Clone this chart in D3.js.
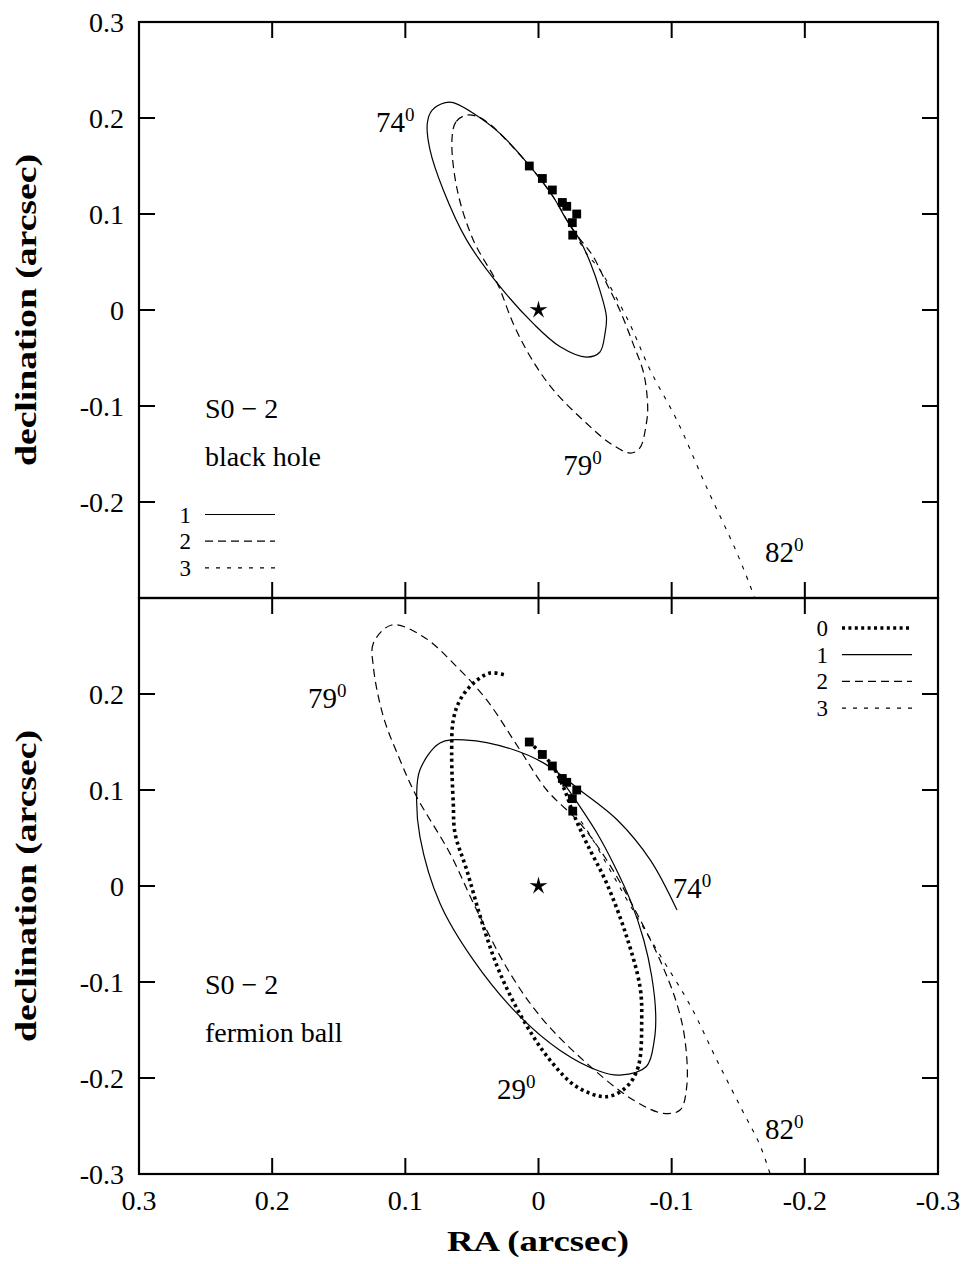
<!DOCTYPE html>
<html>
<head>
<meta charset="utf-8">
<script src="https://cdn.jsdelivr.net/npm/d3@7"></script>
<style>
  body { margin: 0; background: #fff; }
  svg { display: block; }
  text { font-family: "Liberation Serif", "DejaVu Serif", serif; fill: #000; }
</style>
</head>
<body>
<script>
// ---- axis ticks ----
const tickValues = [0.3, 0.2, 0.1, 0, -0.1, -0.2, -0.3];
const tickLabels = ["0.3", "0.2", "0.1", "0", "-0.1", "-0.2", "-0.3"];

// ---- S0-2 astrometric positions (arcsec) ----
const obsRA  = [0.0069, -0.0029, -0.0104, -0.0179, -0.0212, -0.0287, -0.0254, -0.0257];
const obsDec = [0.150, 0.137, 0.125, 0.112, 0.108, 0.100, 0.091, 0.078];

// ---- black hole fits ----
// 1: i = 74 deg (closed orbit)
const bh1RA  = [0.064, 0.070, 0.080, 0.0835, 0.0815, 0.0715, 0.054, 0.031, 0.004, -0.016, -0.036, -0.046, -0.050, -0.051, -0.046, -0.039, -0.031, -0.021, -0.011, 0.006, 0.029, 0.049];
const bh1Dec = [0.216, 0.216, 0.208, 0.1945, 0.167, 0.125, 0.073, 0.028, -0.014, -0.038, -0.049, -0.044, -0.024, -0.007, 0.021, 0.049, 0.073, 0.094, 0.118, 0.149, 0.184, 0.205];
// 2: i = 79 deg (closed orbit)
const bh2RA  = [0.054, 0.062, 0.065, 0.061, 0.049, 0.031, 0.019, 0.006, -0.011, -0.036, -0.054, -0.069, -0.076, -0.081, -0.082, -0.079, -0.071, -0.061, -0.051, -0.041, -0.034, -0.026, -0.011, 0.006, 0.029, 0.036, 0.045];
const bh2Dec = [0.203, 0.196, 0.177, 0.125, 0.073, 0.028, -0.014, -0.049, -0.083, -0.118, -0.139, -0.149, -0.144, -0.118, -0.101, -0.066, -0.035, 0.000, 0.028, 0.056, 0.069, 0.083, 0.118, 0.149, 0.184, 0.193, 0.201];
// 3: i = 82 deg (open arc)
const bh3RA  = [-0.027, -0.036, -0.046, -0.067, -0.084, -0.104, -0.126, -0.149, -0.161, -0.1626];
const bh3Dec = [0.081, 0.059, 0.042, -0.010, -0.063, -0.115, -0.184, -0.253, -0.295, -0.302];

// ---- fermion ball fits ----
// 0: i = 29 deg
const fb0RA  = [0.0071, -0.0011, -0.0101, -0.0186, -0.0261, -0.0362, -0.0512, -0.0662, -0.0762, -0.0775, -0.0749, -0.0662, -0.0512, -0.0287, -0.0086, 0.0114, 0.0289, 0.0414, 0.0539, 0.0627, 0.064, 0.0652, 0.064, 0.0589, 0.049, 0.0364, 0.0252];
const fb0Dec = [0.150, 0.1396, 0.126, 0.1034, 0.0757, 0.0445, 0.0028, -0.0528, -0.1049, -0.1396, -0.1882, -0.2091, -0.2195, -0.2091, -0.1813, -0.1396, -0.0909, -0.0424, 0.0167, 0.0549, 0.0861, 0.1382, 0.1729, 0.1938, 0.2111, 0.2219, 0.2198];
// 1: i = 74 deg
const fb1RA  = [-0.020, -0.031, -0.044, -0.056, -0.069, -0.079, -0.085, -0.088, -0.087, -0.081, -0.061, -0.046, -0.016, 0.016, 0.049, 0.074, 0.089, 0.0915, 0.089, 0.074, 0.054, 0.021, -0.004, -0.031, -0.059, -0.084, -0.104];
const fb1Dec = [0.105, 0.083, 0.055, 0.024, -0.015, -0.056, -0.094, -0.133, -0.160, -0.188, -0.197, -0.193, -0.171, -0.133, -0.077, -0.018, 0.051, 0.093, 0.121, 0.149, 0.152, 0.143, 0.128, 0.100, 0.069, 0.027, -0.025];
// 2: i = 79 deg (closed orbit)
const fb2RA  = [0.1102, 0.124, 0.124, 0.1165, 0.104, 0.0915, 0.0665, 0.0464, 0.0214, -0.0036, -0.0362, -0.0712, -0.0937, -0.1063, -0.1113, -0.110, -0.1038, -0.0912, -0.0712, -0.0512, -0.0312, -0.0062, 0.0139, 0.0389, 0.0614, 0.0865];
const fb2Dec = [0.2719, 0.2528, 0.2284, 0.1764, 0.1313, 0.093, 0.034, -0.025, -0.0909, -0.1396, -0.1847, -0.2229, -0.2368, -0.2333, -0.209, -0.1604, -0.1222, -0.0771, -0.0216, 0.0271, 0.0653, 0.100, 0.1417, 0.1938, 0.2284, 0.2597];
// 3: i = 82 deg (open arc)
const fb3RA  = [-0.0274, -0.0387, -0.0537, -0.0687, -0.0912, -0.1138, -0.1338, -0.1528, -0.1663, -0.1753];
const fb3Dec = [0.077, 0.053, 0.0167, -0.0198, -0.0719, -0.124, -0.181, -0.233, -0.270, -0.306];

const W = 968, H = 1264;
const svg = d3.select("body").append("svg").attr("width", W).attr("height", H);

const x = d3.scaleLinear().domain([0.3, -0.3]).range([139, 938]);
const yTop = d3.scaleLinear().domain([0.3, -0.3]).range([22, 598]);
const yBot = d3.scaleLinear().domain([0.3, -0.3]).range([598, 1174]);

const styles = {
  s0: { width: 3.6, dash: "3,3.4" },
  s1: { width: 1.2, dash: null },
  s2: { width: 1.2, dash: "8,5" },
  s3: { width: 1.1, dash: "4,7" }
};

const zip = (a, b) => a.map((v, i) => [v, b[i]]);

// star marker for Sgr A*
const thinStar = {
  draw(ctx, size) {
    const R = Math.sqrt(size), r = R * 0.32;
    for (let k = 0; k < 10; k++) {
      const rad = k % 2 ? r : R;
      const a = -Math.PI / 2 + k * Math.PI / 5;
      const px = rad * Math.cos(a), py = rad * Math.sin(a);
      k ? ctx.lineTo(px, py) : ctx.moveTo(px, py);
    }
    ctx.closePath();
  }
};

function drawPanel(y, id, curves, labels, yTickShown) {
  const g = svg.append("g");
  const [y0, y1] = y.range();

  g.append("clipPath").attr("id", id).append("rect")
    .attr("x", 139).attr("y", y0).attr("width", 799).attr("height", y1 - y0);

  const plot = g.append("g").attr("clip-path", `url(#${id})`);
  curves.forEach(c => {
    const line = d3.line().x(d => x(d[0])).y(d => y(d[1]))
      .curve(c.closed ? d3.curveCatmullRomClosed.alpha(0.5) : d3.curveCatmullRom.alpha(0.5));
    const st = styles[c.style];
    plot.append("path").attr("d", line(zip(c.ra, c.dec)))
      .attr("fill", "none").attr("stroke", "#000")
      .attr("stroke-width", st.width)
      .attr("stroke-dasharray", st.dash)
      .attr("stroke-linejoin", "round");
  });

  // observed positions
  plot.selectAll("path.obs").data(zip(obsRA, obsDec)).join("path")
    .attr("class", "obs")
    .attr("transform", d => `translate(${x(d[0])},${y(d[1])})`)
    .attr("d", d3.symbol(d3.symbolSquare, 78)());

  // central object
  plot.append("path")
    .attr("transform", `translate(${x(0)},${y(0)})`)
    .attr("d", d3.symbol(thinStar, 90)());

  // inward ticks on all four sides
  const tk = 16;
  tickValues.forEach(v => {
    g.append("line").attr("x1", x(v)).attr("x2", x(v)).attr("y1", y0).attr("y2", y0 + tk);
    g.append("line").attr("x1", x(v)).attr("x2", x(v)).attr("y1", y1).attr("y2", y1 - tk);
    g.append("line").attr("y1", y(v)).attr("y2", y(v)).attr("x1", 139).attr("x2", 139 + tk);
    g.append("line").attr("y1", y(v)).attr("y2", y(v)).attr("x1", 938).attr("x2", 938 - tk);
  });
  g.selectAll("line").attr("stroke", "#000").attr("stroke-width", 2);

  g.append("rect").attr("x", 139).attr("y", y0).attr("width", 799).attr("height", y1 - y0)
    .attr("fill", "none").attr("stroke", "#000").attr("stroke-width", 2.2);

  tickValues.forEach((v, i) => {
    if (!yTickShown(v)) return;
    g.append("text").attr("x", 124).attr("y", y(v) + 10)
      .attr("text-anchor", "end").attr("font-size", 28).text(tickLabels[i]);
  });

  // inclination labels with degree superscript
  labels.forEach(l => {
    const t = g.append("text").attr("x", x(l.ra)).attr("y", y(l.dec)).attr("font-size", 29);
    t.append("tspan").text(l.text);
    t.append("tspan").attr("font-size", 19).attr("dy", -11).text("0");
  });

  g.append("text").attr("transform", `translate(36,${(y0 + y1) / 2}) rotate(-90)`)
    .attr("text-anchor", "middle").attr("font-size", 29).attr("font-weight", "bold")
    .attr("textLength", 312).attr("lengthAdjust", "spacingAndGlyphs")
    .text("declination (arcsec)");
  return g;
}

const topG = drawPanel(yTop, "clipTop", [
  { ra: bh1RA, dec: bh1Dec, style: "s1", closed: true },
  { ra: bh2RA, dec: bh2Dec, style: "s2", closed: true },
  { ra: bh3RA, dec: bh3Dec, style: "s3", closed: false }
], [
  { text: "74", ra: 0.1220, dec: 0.185 },
  { text: "79", ra: -0.0185, dec: -0.172 },
  { text: "82", ra: -0.1700, dec: -0.263 }
], v => v > -0.25);

const botG = drawPanel(yBot, "clipBot", [
  { ra: fb0RA, dec: fb0Dec, style: "s0", closed: false },
  { ra: fb1RA, dec: fb1Dec, style: "s1", closed: false },
  { ra: fb2RA, dec: fb2Dec, style: "s2", closed: true },
  { ra: fb3RA, dec: fb3Dec, style: "s3", closed: false }
], [
  { text: "79", ra: 0.1730, dec: 0.185 },
  { text: "74", ra: -0.1008, dec: -0.013 },
  { text: "29", ra: 0.0312, dec: -0.222 },
  { text: "82", ra: -0.1700, dec: -0.264 }
], v => v < 0.25);

// panel captions
function caption(g, y, lines) {
  lines.forEach(l => g.append("text").attr("x", 205).attr("y", y(l.dec))
    .attr("font-size", 28).text(l.text));
}
caption(topG, yTop, [{ text: "S0 \u2212 2", dec: -0.112 }, { text: "black hole", dec: -0.163 }]);
caption(botG, yBot, [{ text: "S0 \u2212 2", dec: -0.112 }, { text: "fermion ball", dec: -0.163 }]);

// legends
const legTopKeys = ["1", "2", "3"];
const legBotKeys = ["0", "1", "2", "3"];
function legend(keys, xText, x0, x1, yStart, step) {
  keys.forEach((k, i) => {
    const yy = yStart + i * step;
    svg.append("text").attr("x", xText).attr("y", yy + 8).attr("text-anchor", "end")
      .attr("font-size", 23).text(k);
    const st = styles["s" + k];
    svg.append("line").attr("x1", x0).attr("x2", x1).attr("y1", yy).attr("y2", yy)
      .attr("stroke", "#000").attr("stroke-width", st.width).attr("stroke-dasharray", st.dash);
  });
}
legend(legTopKeys, 191, 205, 275, 514.5, 26.7);
legend(legBotKeys, 828, 842, 912, 628, 26.7);

// bottom x-axis labels
tickValues.forEach((v, i) => {
  svg.append("text").attr("x", x(v)).attr("y", 1210).attr("text-anchor", "middle")
    .attr("font-size", 28).text(tickLabels[i]);
});
svg.append("text").attr("x", 538).attr("y", 1251).attr("text-anchor", "middle")
  .attr("font-size", 29).attr("font-weight", "bold")
  .attr("textLength", 182).attr("lengthAdjust", "spacingAndGlyphs")
  .text("RA (arcsec)");
</script>
</body>
</html>
